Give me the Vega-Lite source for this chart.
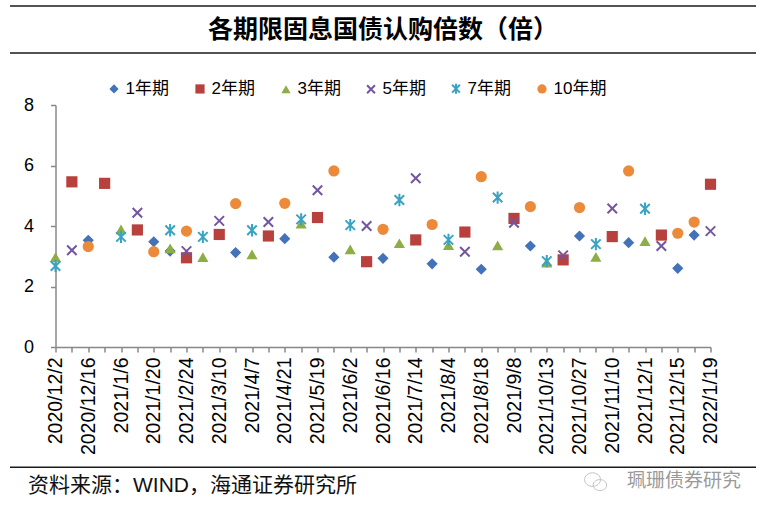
{
  "$schema": "https://vega.github.io/schema/vega-lite/v6.json",
  "background": "white",
  "padding": {"left": 9, "top": 5, "right": 8, "bottom": 0},
  "bounds": "flush",
  "center": true,
  "spacing": 24,
  "resolve": {"legend": {"fill": "independent", "stroke": "independent", "shape": "independent"}},
  "vconcat": [
    {
      "width": 746,
      "height": 75,
      "layer": [
        {
          "data": {"values": [{"edge": 0}, {"edge": 50}]},
          "mark": {"type": "rule", "color": "#1a1a1a", "strokeWidth": 1.5},
          "encoding": {
            "y": {"field": "edge", "type": "quantitative", "scale": {"domain": [0, 75], "reverse": true}, "axis": null},
            "x": {"datum": 0, "type": "quantitative", "scale": {"domain": [0, 1]}, "axis": null},
            "x2": {"datum": 1}
          }
        },
        {
          "data": {"values": [{"title": "各期限固息国债认购倍数（倍）"}]},
          "mark": {"type": "text", "font": "Noto Sans CJK SC", "fontSize": 25, "fontWeight": "bold", "color": "#000", "baseline": "middle"},
          "encoding": {
            "text": {"field": "title"},
            "x": {"datum": 0.5, "type": "quantitative"},
            "y": {"datum": 26, "type": "quantitative"}
          }
        }
      ]
    },
    {
      "width": 655,
      "height": 242,
      "data": {
        "values": [
          {"date": "2020/12/16", "series": "1年期", "value": 3.53},
          {"date": "2021/1/20", "series": "1年期", "value": 3.48},
          {"date": "2021/2/3", "series": "1年期", "value": 3.17},
          {"date": "2021/3/24", "series": "1年期", "value": 3.12},
          {"date": "2021/4/21", "series": "1年期", "value": 3.58},
          {"date": "2021/5/26", "series": "1年期", "value": 2.97},
          {"date": "2021/6/16", "series": "1年期", "value": 2.93},
          {"date": "2021/7/21", "series": "1年期", "value": 2.75},
          {"date": "2021/8/18", "series": "1年期", "value": 2.57},
          {"date": "2021/9/15", "series": "1年期", "value": 3.34},
          {"date": "2021/10/27", "series": "1年期", "value": 3.67},
          {"date": "2021/11/17", "series": "1年期", "value": 3.45},
          {"date": "2021/12/15", "series": "1年期", "value": 2.60},
          {"date": "2022/1/12", "series": "1年期", "value": 3.70},
          {"date": "2020/12/9", "series": "2年期", "value": 5.46},
          {"date": "2020/12/23", "series": "2年期", "value": 5.41},
          {"date": "2021/1/13", "series": "2年期", "value": 3.87},
          {"date": "2021/2/24", "series": "2年期", "value": 2.95},
          {"date": "2021/3/10", "series": "2年期", "value": 3.72},
          {"date": "2021/4/14", "series": "2年期", "value": 3.67},
          {"date": "2021/5/19", "series": "2年期", "value": 4.28},
          {"date": "2021/6/9", "series": "2年期", "value": 2.82},
          {"date": "2021/7/14", "series": "2年期", "value": 3.54},
          {"date": "2021/8/11", "series": "2年期", "value": 3.80},
          {"date": "2021/9/8", "series": "2年期", "value": 4.25},
          {"date": "2021/10/20", "series": "2年期", "value": 2.88},
          {"date": "2021/11/10", "series": "2年期", "value": 3.65},
          {"date": "2021/12/8", "series": "2年期", "value": 3.70},
          {"date": "2022/1/19", "series": "2年期", "value": 5.38},
          {"date": "2020/12/2", "series": "3年期", "value": 2.97},
          {"date": "2021/1/6", "series": "3年期", "value": 3.89},
          {"date": "2021/2/3", "series": "3年期", "value": 3.26},
          {"date": "2021/3/3", "series": "3年期", "value": 2.97},
          {"date": "2021/4/7", "series": "3年期", "value": 3.06},
          {"date": "2021/5/12", "series": "3年期", "value": 4.08},
          {"date": "2021/6/2", "series": "3年期", "value": 3.23},
          {"date": "2021/7/7", "series": "3年期", "value": 3.43},
          {"date": "2021/8/4", "series": "3年期", "value": 3.37},
          {"date": "2021/8/25", "series": "3年期", "value": 3.36},
          {"date": "2021/10/13", "series": "3年期", "value": 2.79},
          {"date": "2021/11/3", "series": "3年期", "value": 2.98},
          {"date": "2021/12/1", "series": "3年期", "value": 3.50},
          {"date": "2020/12/9", "series": "5年期", "value": 3.20},
          {"date": "2021/1/13", "series": "5年期", "value": 4.44},
          {"date": "2021/2/24", "series": "5年期", "value": 3.17},
          {"date": "2021/3/10", "series": "5年期", "value": 4.17},
          {"date": "2021/4/14", "series": "5年期", "value": 4.13},
          {"date": "2021/5/19", "series": "5年期", "value": 5.18},
          {"date": "2021/6/9", "series": "5年期", "value": 4.00},
          {"date": "2021/7/14", "series": "5年期", "value": 5.58},
          {"date": "2021/8/11", "series": "5年期", "value": 3.15},
          {"date": "2021/9/8", "series": "5年期", "value": 4.11},
          {"date": "2021/10/20", "series": "5年期", "value": 3.03},
          {"date": "2021/11/10", "series": "5年期", "value": 4.58},
          {"date": "2021/12/8", "series": "5年期", "value": 3.34},
          {"date": "2022/1/19", "series": "5年期", "value": 3.83},
          {"date": "2020/12/2", "series": "7年期", "value": 2.68},
          {"date": "2021/1/6", "series": "7年期", "value": 3.64},
          {"date": "2021/2/3", "series": "7年期", "value": 3.86},
          {"date": "2021/3/3", "series": "7年期", "value": 3.64},
          {"date": "2021/4/7", "series": "7年期", "value": 3.86},
          {"date": "2021/5/12", "series": "7年期", "value": 4.22},
          {"date": "2021/6/2", "series": "7年期", "value": 4.03},
          {"date": "2021/7/7", "series": "7年期", "value": 4.86},
          {"date": "2021/8/4", "series": "7年期", "value": 3.54},
          {"date": "2021/8/25", "series": "7年期", "value": 4.94},
          {"date": "2021/10/13", "series": "7年期", "value": 2.84},
          {"date": "2021/11/3", "series": "7年期", "value": 3.40},
          {"date": "2021/12/1", "series": "7年期", "value": 4.57},
          {"date": "2020/12/16", "series": "10年期", "value": 3.32},
          {"date": "2021/1/20", "series": "10年期", "value": 3.15},
          {"date": "2021/2/24", "series": "10年期", "value": 3.83},
          {"date": "2021/3/24", "series": "10年期", "value": 4.74},
          {"date": "2021/4/21", "series": "10年期", "value": 4.75},
          {"date": "2021/5/26", "series": "10年期", "value": 5.82},
          {"date": "2021/6/16", "series": "10年期", "value": 3.89},
          {"date": "2021/7/21", "series": "10年期", "value": 4.05},
          {"date": "2021/8/18", "series": "10年期", "value": 5.63},
          {"date": "2021/9/15", "series": "10年期", "value": 4.64},
          {"date": "2021/10/27", "series": "10年期", "value": 4.61},
          {"date": "2021/11/17", "series": "10年期", "value": 5.82},
          {"date": "2021/12/15", "series": "10年期", "value": 3.76},
          {"date": "2022/1/12", "series": "10年期", "value": 4.13}
        ]
      },
      "mark": {"type": "point", "filled": true, "size": 125, "opacity": 1, "strokeWidth": 2},
      "encoding": {
        "x": {
          "field": "date",
          "type": "ordinal",
          "scale": {
            "type": "point",
            "padding": 0,
            "domain": ["2020/12/2", "2020/12/9", "2020/12/16", "2020/12/23", "2021/1/6", "2021/1/13", "2021/1/20", "2021/2/3", "2021/2/24", "2021/3/3", "2021/3/10", "2021/3/24", "2021/4/7", "2021/4/14", "2021/4/21", "2021/5/12", "2021/5/19", "2021/5/26", "2021/6/2", "2021/6/9", "2021/6/16", "2021/7/7", "2021/7/14", "2021/7/21", "2021/8/4", "2021/8/11", "2021/8/18", "2021/8/25", "2021/9/8", "2021/9/15", "2021/10/13", "2021/10/20", "2021/10/27", "2021/11/3", "2021/11/10", "2021/11/17", "2021/12/1", "2021/12/8", "2021/12/15", "2022/1/12", "2022/1/19"]
          },
          "axis": {
            "title": null,
            "labelAngle": -90,
            "labelExpr": "indexof(['2020/12/2','2020/12/16','2021/1/6','2021/1/20','2021/2/24','2021/3/10','2021/4/7','2021/4/21','2021/5/19','2021/6/2','2021/6/16','2021/7/14','2021/8/4','2021/8/18','2021/9/8','2021/10/13','2021/10/27','2021/11/10','2021/12/1','2021/12/15','2022/1/19'], datum.value) >= 0 ? datum.value : ''",
            "labelOverlap": false,
            "labelFont": "Liberation Sans",
            "labelFontSize": 19.5,
            "labelColor": "#000",
            "labelPadding": 5,
            "tickSize": 5,
            "tickColor": "#888",
            "tickWidth": 1.5,
            "domainColor": "#888",
            "domainWidth": 1.5
          }
        },
        "y": {
          "field": "value",
          "type": "quantitative",
          "scale": {"domain": [0, 8], "nice": false},
          "axis": {
            "title": null,
            "values": [0, 2, 4, 6, 8],
            "grid": false,
            "labelFont": "Liberation Sans",
            "labelFontSize": 18,
            "labelColor": "#000",
            "labelPadding": 17,
            "tickSize": 5,
            "tickColor": "#888",
            "tickWidth": 1.5,
            "domainColor": "#888",
            "domainWidth": 1.5
          }
        },
        "fill": {
          "field": "series",
          "type": "nominal",
          "scale": {"domain": ["1年期", "2年期", "3年期", "5年期", "7年期", "10年期"], "range": ["#4472B8", "#B8403D", "#8EAD45", "#7455A0", "#39A3C4", "#EC8A3A"]},
          "legend": {"title": null}
        },
        "stroke": {
          "field": "series",
          "type": "nominal",
          "scale": {"domain": ["1年期", "2年期", "3年期", "5年期", "7年期", "10年期"], "range": ["transparent", "transparent", "transparent", "#7455A0", "#39A3C4", "transparent"]},
          "legend": {"title": null}
        },
        "shape": {
          "field": "series",
          "type": "nominal",
          "scale": {"domain": ["1年期", "2年期", "3年期", "5年期", "7年期", "10年期"], "range": ["diamond", "square", "triangle-up", "M-0.85,-0.85L0.85,0.85M-0.85,0.85L0.85,-0.85", "M-0.85,-0.85L0.85,0.85M-0.85,0.85L0.85,-0.85M0,-1.1L0,1.1", "circle"]},
          "legend": {"title": null}
        }
      }
    },
    {
      "width": 746,
      "height": 151,
      "layer": [
        {
          "data": {"values": [{"edge": 102}]},
          "mark": {"type": "rule", "color": "#1a1a1a", "strokeWidth": 1.5},
          "encoding": {
            "y": {"field": "edge", "type": "quantitative", "scale": {"domain": [0, 151], "reverse": true}, "axis": null},
            "x": {"datum": 0, "type": "quantitative", "scale": {"domain": [0, 1]}, "axis": null},
            "x2": {"datum": 1}
          }
        },
        {
          "data": {"values": [{"note": "资料来源：WIND，海通证券研究所"}]},
          "mark": {"type": "text", "font": "Liberation Sans, Noto Sans CJK SC", "fontSize": 21, "color": "#111", "align": "left", "baseline": "middle", "dx": 18},
          "encoding": {
            "text": {"field": "note"},
            "x": {"datum": 0, "type": "quantitative"},
            "y": {"datum": 122, "type": "quantitative"}
          }
        },
        {
          "data": {"values": [{"note": "珮珊债券研究"}]},
          "mark": {"type": "text", "font": "Noto Sans CJK SC", "fontSize": 19, "color": "#9a9a9a", "align": "right", "baseline": "middle"},
          "encoding": {
            "text": {"field": "note"},
            "x": {"datum": 0.98, "type": "quantitative"},
            "y": {"datum": 117, "type": "quantitative"}
          }
        },
        {
          "data": {"values": [{"icon": "wechat"}]},
          "mark": {"type": "point", "shape": "M-0.9,-0.15A0.65,0.55 0 1,1 0.4,-0.15A0.65,0.55 0 1,1 -0.9,-0.15Z M-0.2,0.3A0.55,0.45 0 1,1 0.9,0.3A0.55,0.45 0 1,1 -0.2,0.3Z", "size": 600, "filled": false, "color": "#aaaaaa", "strokeWidth": 1},
          "encoding": {
            "x": {"datum": 0.785, "type": "quantitative"},
            "y": {"datum": 117, "type": "quantitative"}
          }
        }
      ]
    }
  ],
  "config": {
    "view": {"stroke": null},
    "legend": {
      "orient": "none",
      "legendX": 50,
      "legendY": -25,
      "direction": "horizontal",
      "labelFont": "Liberation Sans, Noto Sans CJK SC",
      "labelFontSize": 17,
      "labelColor": "#000",
      "labelOffset": 3,
      "symbolSize": 85,
      "symbolStrokeWidth": 2,
      "columnPadding": 21
    }
  }
}
